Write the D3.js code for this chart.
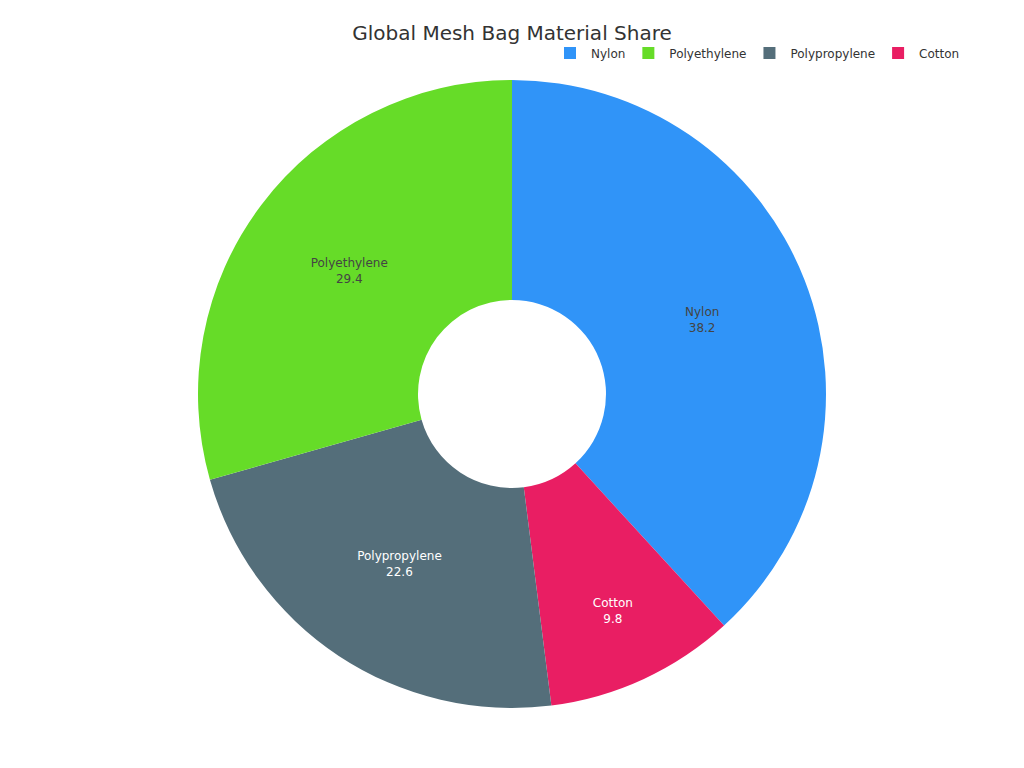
<!DOCTYPE html>
<html lang="en">
<head>
    <meta charset="UTF-8">
    <script src="https://d3js.org/d3.v7.min.js"></script>
    <style>
        body { margin: 0; background: #fff; }
        text { font-family: "DejaVu Sans", sans-serif; }
    </style>
</head>
<body>

<svg width="1024" height="768"></svg>

<script>

    // chart data, clockwise from 12 o'clock
    var materials = ['Nylon', 'Cotton', 'Polypropylene', 'Polyethylene'];
    var shares = [38.2, 9.8, 22.6, 29.4];
    var colors = ['#3094f8', '#e91e63', '#546e7a', '#66dc28'];
    var labelColors = ['#444', '#fff', '#fff', '#444'];
    var legendOrder = ['Nylon', 'Polyethylene', 'Polypropylene', 'Cotton'];

    var svg = d3.select("svg"),
        cx = 512, cy = 394,
        outerR = 314, innerR = 94;

    var color = d3.scaleOrdinal().domain(materials).range(colors);
    var textColor = d3.scaleOrdinal().domain(materials).range(labelColors);

    var data = materials.map(function(m, i) { return {name: m, value: shares[i]}; });

    var pie = d3.pie().value(function(d) { return d.value; }).sort(null);
    var arc = d3.arc().innerRadius(innerR).outerRadius(outerR);

    var g = svg.append("g")
        .attr("transform", "translate(" + cx + "," + cy + ")");

    var slices = pie(data);

    g.selectAll("path.slice")
        .data(slices)
        .enter()
        .append("path")
        .attr("class", "slice")
        .attr("d", arc)
        .attr("fill", function(d) { return color(d.data.name); });

    // narrow slices get their label pushed outward
    function labelPos(d) {
        var r = (d.endAngle - d.startAngle) < 0.8 ? 240 : (innerR + outerR) / 2;
        var a = (d.startAngle + d.endAngle) / 2;
        return [r * Math.sin(a), -r * Math.cos(a)];
    }

    var labels = g.selectAll("text.lbl")
        .data(slices)
        .enter()
        .append("text")
        .attr("class", "lbl")
        .attr("text-anchor", "middle")
        .attr("font-size", 12)
        .attr("fill", function(d) { return textColor(d.data.name); })
        .attr("transform", function(d) { return "translate(" + labelPos(d) + ")"; });

    labels.append("tspan")
        .attr("x", 0).attr("y", -4.5)
        .text(function(d) { return d.data.name; });
    labels.append("tspan")
        .attr("x", 0).attr("y", 11.5)
        .text(function(d) { return d.data.value; });

    // title
    svg.append("text")
        .attr("x", 512)
        .attr("y", 40)
        .attr("text-anchor", "middle")
        .attr("font-size", 20)
        .attr("fill", "#333")
        .text("Global Mesh Bag Material Share");

    // legend, laid out left to right
    var legend = svg.append("g");
    var lx = 564;
    legendOrder.forEach(function(name) {
        legend.append("rect")
            .attr("x", lx).attr("y", 47)
            .attr("width", 12).attr("height", 12)
            .attr("fill", color(name));
        var t = legend.append("text")
            .attr("x", lx + 27).attr("y", 58)
            .attr("font-size", 12)
            .attr("fill", "#333")
            .text(name);
        lx += 27 + t.node().getComputedTextLength() + 17;
    });

</script>

</body>
</html>
